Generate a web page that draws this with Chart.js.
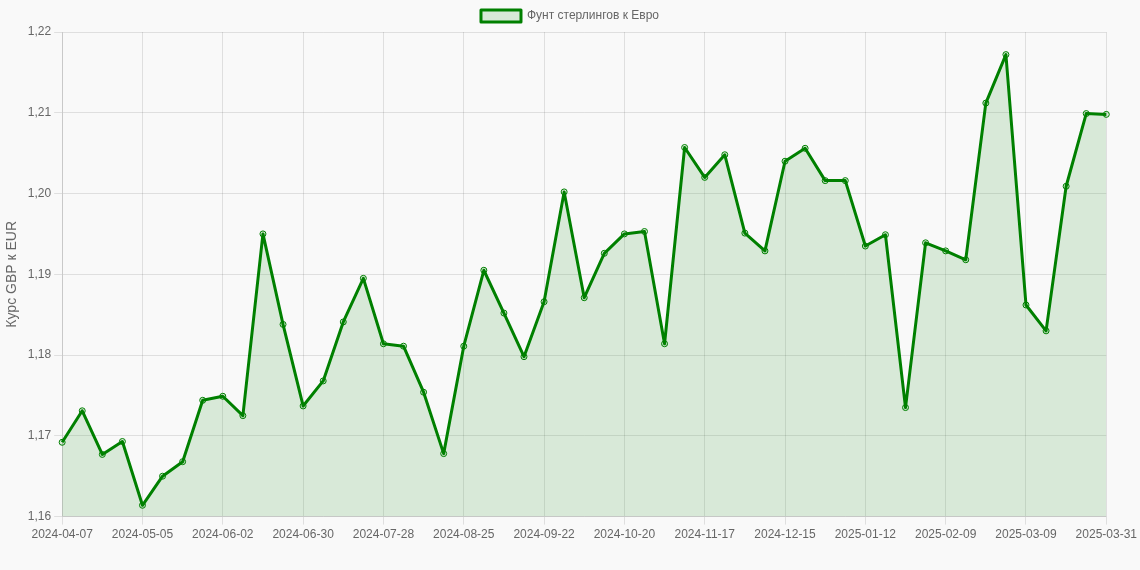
<!DOCTYPE html>
<html>
<head>
<meta charset="utf-8">
<script src="https://cdn.jsdelivr.net/npm/chart.js@4/dist/chart.umd.min.js"></script>
<style>
  html, body { margin: 0; padding: 0; background: #f9f9f9; }
  #wrap { width: 1140px; height: 570px; position: relative; }
</style>
</head>
<body>
<div id="wrap"><canvas id="c"></canvas></div>
<script>
const dates = [
  "2024-04-07","2024-04-14","2024-04-21","2024-04-28","2024-05-05","2024-05-12","2024-05-19","2024-05-26",
  "2024-06-02","2024-06-09","2024-06-16","2024-06-23","2024-06-30","2024-07-07","2024-07-14","2024-07-21",
  "2024-07-28","2024-08-04","2024-08-11","2024-08-18","2024-08-25","2024-09-01","2024-09-08","2024-09-15",
  "2024-09-22","2024-09-29","2024-10-06","2024-10-13","2024-10-20","2024-10-27","2024-11-03","2024-11-10",
  "2024-11-17","2024-11-24","2024-12-01","2024-12-08","2024-12-15","2024-12-22","2024-12-29","2025-01-05",
  "2025-01-12","2025-01-19","2025-01-26","2025-02-02","2025-02-09","2025-02-16","2025-02-23","2025-03-02",
  "2025-03-09","2025-03-16","2025-03-23","2025-03-30","2025-03-31"
];
const gbpEur = [
  1.1692, 1.1731, 1.1677, 1.1693, 1.1614, 1.1650, 1.1668, 1.1744,
  1.1749, 1.1725, 1.1950, 1.1838, 1.1737, 1.1768, 1.1841, 1.1895,
  1.1814, 1.1811, 1.1754, 1.1678, 1.1811, 1.1905, 1.1852, 1.1798,
  1.1866, 1.2002, 1.1871, 1.1926, 1.1950, 1.1953, 1.1814, 1.2057,
  1.2020, 1.2048, 1.1951, 1.1929, 1.2040, 1.2056, 1.2016, 1.2016,
  1.1935, 1.1949, 1.1735, 1.1939, 1.1929, 1.1918, 1.2112, 1.2172,
  1.1862, 1.1830, 1.2009, 1.2099, 1.2098
];
const seriesLabel = "Фунт стерлингов к Евро";
const yTitle = "Курс GBP к EUR";
const yMin = 1.16, yMax = 1.22, yStep = 0.01;
const labelEvery = 4;

Chart.defaults.font.family = "'Liberation Sans', Arial, sans-serif";
Chart.defaults.font.size = 12;
Chart.defaults.color = "#666";

const gridCol = "rgba(0,0,0,0.1)";

new Chart(document.getElementById("c"), {
  type: "line",
  data: {
    labels: dates,
    datasets: [{
      label: seriesLabel,
      data: gbpEur,
      borderColor: "green",
      backgroundColor: "rgba(0,128,0,0.13)",
      borderWidth: 3,
      borderJoinStyle: "round",
      fill: true,
      tension: 0,
      pointRadius: 3,
      pointBorderWidth: 1,
      pointBorderColor: "green",
      pointBackgroundColor: "rgba(0,128,0,0.13)"
    }]
  },
  options: {
    responsive: true,
    maintainAspectRatio: false,
    animation: false,
    layout: { padding: { left: 0, bottom: 25 } },
    plugins: {
      legend: {
        display: true,
        labels: { boxWidth: 40, boxHeight: 12, color: "#666", font: { size: 12 } }
      },
      tooltip: { enabled: false }
    },
    scales: {
      x: {
        grid: {
          color: (ctx) => (ctx.index % labelEvery === 0 ? gridCol : "transparent"),
          tickLength: 8
        },
        border: { color: gridCol },
        ticks: {
          autoSkip: false,
          maxRotation: 0,
          minRotation: 0,
          callback: function (v, i) { return i % labelEvery === 0 ? dates[i] : ""; }
        }
      },
      y: {
        min: yMin,
        max: yMax,
        grid: { color: gridCol, tickLength: 8 },
        border: { color: gridCol },
        ticks: {
          stepSize: yStep,
          callback: (v) => v.toFixed(2).replace(".", ",")
        },
        title: { display: true, text: yTitle, font: { size: 14 }, color: "#666" }
      }
    }
  }
});
</script>
</body>
</html>
